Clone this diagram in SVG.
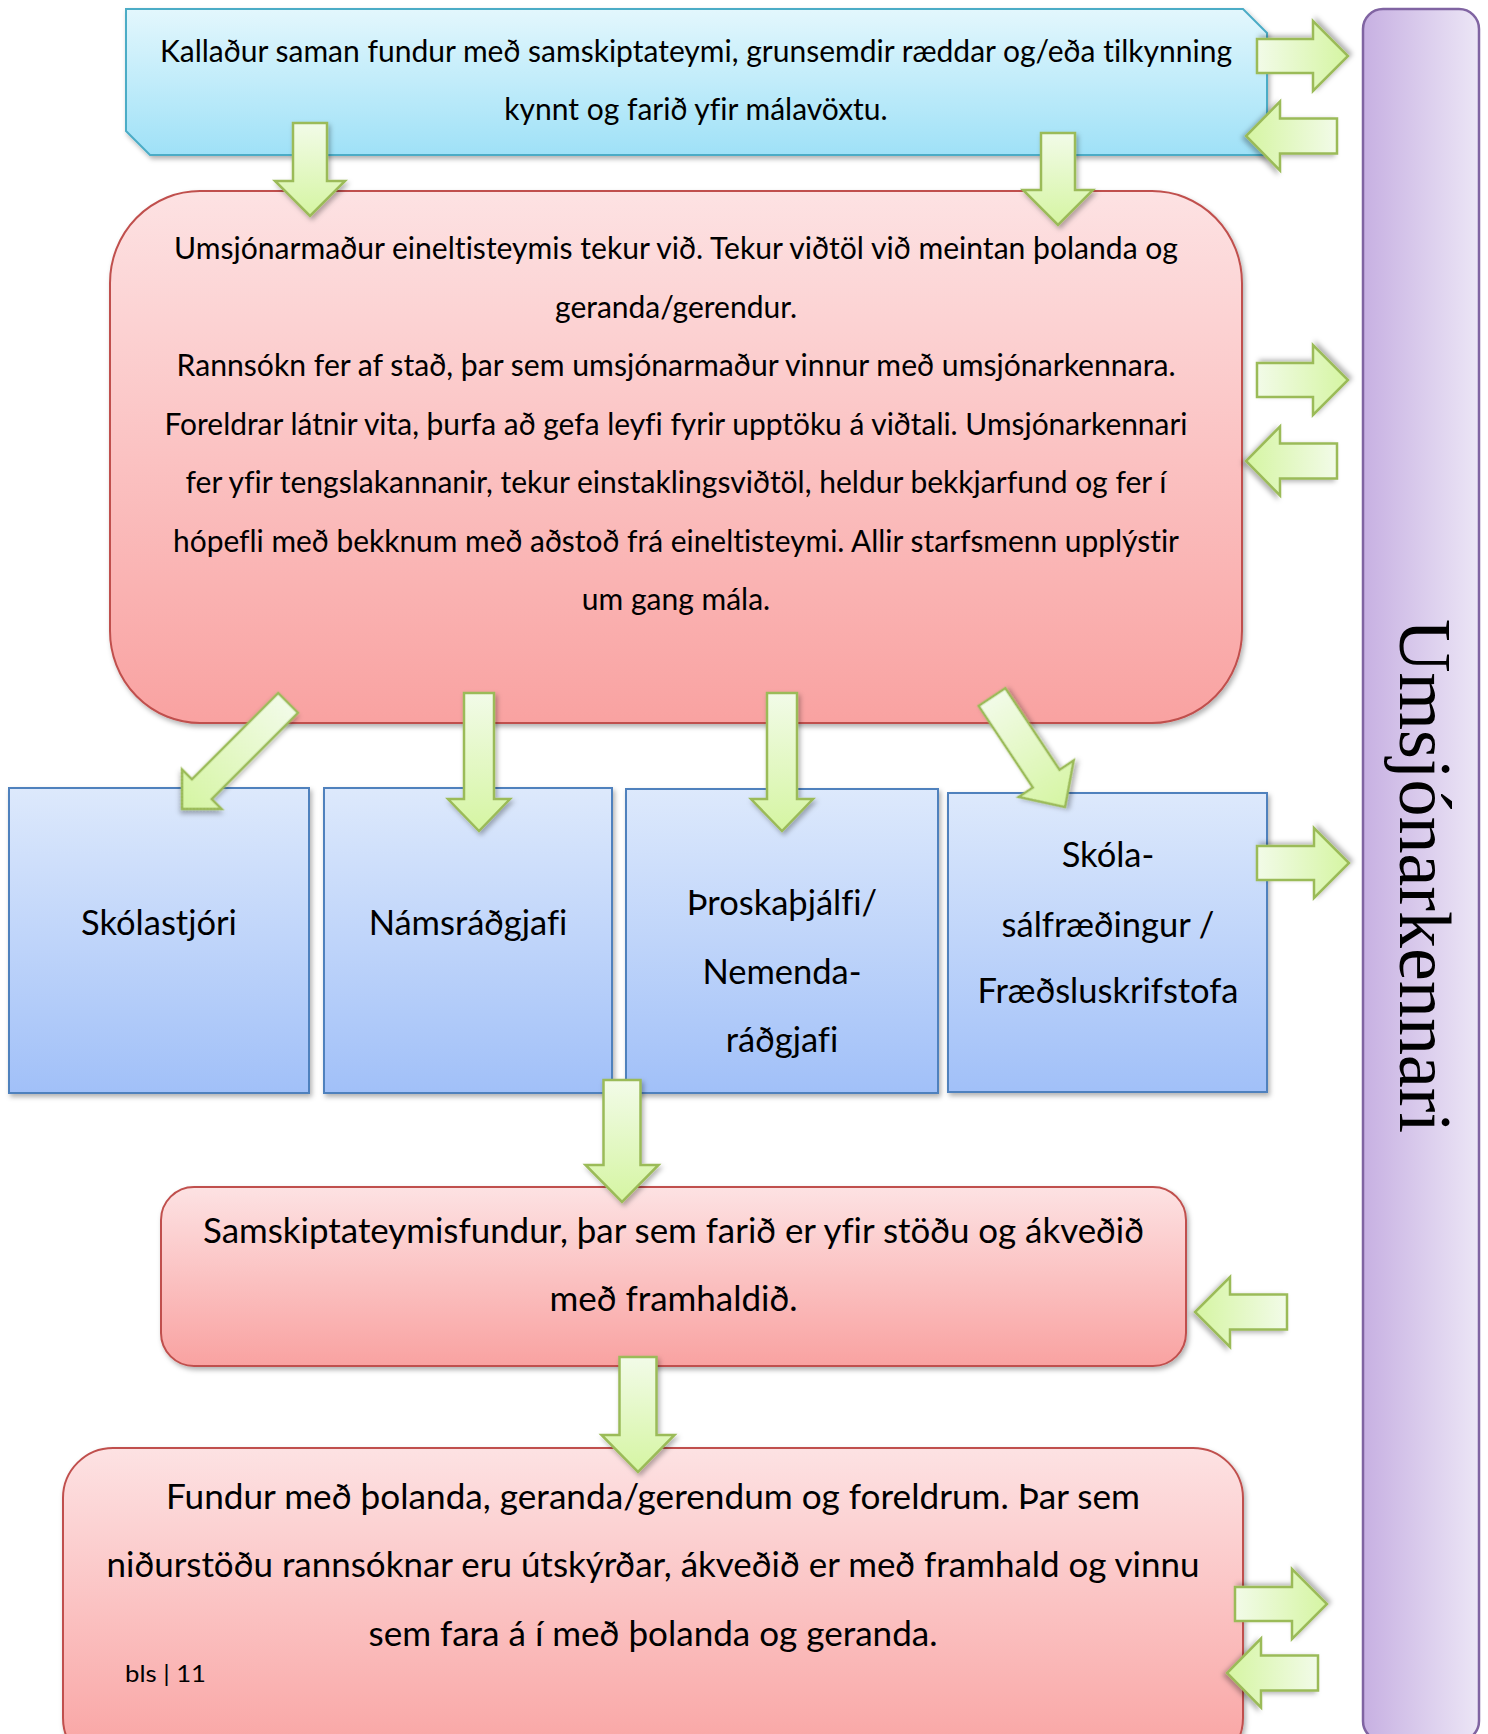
<svg xmlns="http://www.w3.org/2000/svg" width="1488" height="1734" viewBox="0 0 1488 1734">
  <defs>
    <linearGradient id="gBlueTop" x1="0" y1="0" x2="0" y2="1">
      <stop offset="0" stop-color="#e3f7fd"/>
      <stop offset="1" stop-color="#9fe1f7"/>
    </linearGradient>
    <linearGradient id="gRed" x1="0" y1="0" x2="0" y2="1">
      <stop offset="0" stop-color="#fde2e3"/>
      <stop offset="1" stop-color="#f9a2a1"/>
    </linearGradient>
    <linearGradient id="gBlue" x1="0" y1="0" x2="0" y2="1">
      <stop offset="0" stop-color="#dde9fc"/>
      <stop offset="1" stop-color="#a1c0f8"/>
    </linearGradient>
    <linearGradient id="gPurple" x1="0" y1="0" x2="1" y2="0">
      <stop offset="0" stop-color="#c7b0e2"/>
      <stop offset="1" stop-color="#ece6f6"/>
    </linearGradient>
    <linearGradient id="gGreen" x1="0" y1="0" x2="0" y2="1">
      <stop offset="0" stop-color="#f2fbe8"/>
      <stop offset="1" stop-color="#d5f5a2"/>
    </linearGradient>
    <filter id="shadow" x="-10%" y="-10%" width="130%" height="130%">
      <feDropShadow dx="2" dy="3" stdDeviation="2.5" flood-color="#000" flood-opacity="0.3"/>
    </filter>
  </defs>
  <style>
    text { font-variant-ligatures: none; }
    .txt { font-family: "Lato", "Liberation Sans", sans-serif; fill: #000; text-anchor: middle; }
    .f30 { font-size: 30px; }
    .f34 { font-size: 34.5px; }
    .f35 { font-size: 35px; }
    .vert { font-family: "Liberation Serif", serif; font-size: 75px; fill: #000; text-anchor: middle; }
    .bluetop { fill: url(#gBlueTop); stroke: #4bacc6; stroke-width: 2; filter: url(#shadow); }
    .red { fill: url(#gRed); stroke: #c0504d; stroke-width: 2; filter: url(#shadow); }
    .blue { fill: url(#gBlue); stroke: #4f81bd; stroke-width: 2; filter: url(#shadow); }
    .purple { fill: url(#gPurple); stroke: #8064a2; stroke-width: 2.5; }
    .arrow { fill: url(#gGreen); stroke: #9bbb59; stroke-width: 2.5; stroke-linejoin: miter; filter: url(#shadow); }
  </style>
  <rect width="1488" height="1734" fill="#ffffff"/>

  <g id="umsjonarkennari">
    <rect class="purple" x="1363" y="9" width="116" height="1732" rx="20"/>
    <text class="vert" transform="translate(1400,876) rotate(90)" x="0" y="0" textLength="514" lengthAdjust="spacingAndGlyphs">Umsjónarkennari</text>
  </g>

  <g id="kalladur">
    <polygon class="bluetop" points="126,9 1243,9 1267,33 1267,155 150,155 126,131"/>
    <text class="txt f30" x="696" y="62" textLength="1072" lengthAdjust="spacingAndGlyphs">Kallaður saman fundur með samskiptateymi, grunsemdir ræddar og/eða tilkynning</text>
    <text class="txt f30" x="696" y="120">kynnt og farið yfir málavöxtu.</text>
  </g>

  <g id="umsjonarmadur">
    <rect class="red" x="110" y="191" width="1132" height="532" rx="90" ry="92"/>
    <text class="txt f30" x="676" y="259" textLength="1004" lengthAdjust="spacingAndGlyphs">Umsjónarmaður eineltisteymis tekur við. Tekur viðtöl við meintan þolanda og</text>
    <text class="txt f30" x="676" y="317.5">geranda/gerendur.</text>
    <text class="txt f30" x="676" y="376" textLength="999" lengthAdjust="spacingAndGlyphs">Rannsókn fer af stað, þar sem umsjónarmaður vinnur með umsjónarkennara.</text>
    <text class="txt f30" x="676" y="434.5" textLength="1023" lengthAdjust="spacingAndGlyphs">Foreldrar látnir vita, þurfa að gefa leyfi fyrir upptöku á viðtali. Umsjónarkennari</text>
    <text class="txt f30" x="676" y="493" textLength="981" lengthAdjust="spacingAndGlyphs">fer yfir tengslakannanir, tekur einstaklingsviðtöl, heldur bekkjarfund og fer í</text>
    <text class="txt f30" x="676" y="551.5" textLength="1006" lengthAdjust="spacingAndGlyphs">hópefli með bekknum með aðstoð frá eineltisteymi. Allir starfsmenn upplýstir</text>
    <text class="txt f30" x="676" y="610">um gang mála.</text>
  </g>

  <g id="skolastjori">
    <rect class="blue" x="9" y="788" width="300" height="305"/>
    <text class="txt f34" x="159" y="935">Skólastjóri</text>
  </g>
  <g id="namsradgjafi">
    <rect class="blue" x="324" y="788" width="288" height="305"/>
    <text class="txt f34" x="468" y="935">Námsráðgjafi</text>
  </g>
  <g id="throskathjalfi">
    <rect class="blue" x="626" y="789" width="312" height="304"/>
    <text class="txt f34" x="782" y="915">Þroskaþjálfi/</text>
    <text class="txt f34" x="782" y="984">Nemenda-</text>
    <text class="txt f34" x="782" y="1052">ráðgjafi</text>
  </g>
  <g id="skolasalfraedingur">
    <rect class="blue" x="948" y="793" width="319" height="299"/>
    <text class="txt f34" x="1108" y="867">Skóla-</text>
    <text class="txt f34" x="1108" y="937">sálfræðingur /</text>
    <text class="txt f34" x="1108" y="1003">Fræðsluskrifstofa</text>
  </g>

  <g id="samskiptateymisfundur">
    <rect class="red" x="161" y="1187" width="1025" height="179" rx="33"/>
    <text class="txt f35" x="673.5" y="1243" textLength="941" lengthAdjust="spacingAndGlyphs">Samskiptateymisfundur, þar sem farið er yfir stöðu og ákveðið</text>
    <text class="txt f35" x="673.5" y="1311">með framhaldið.</text>
  </g>

  <g id="fundur">
    <rect class="red" x="63" y="1448" width="1180" height="320" rx="50"/>
    <text class="txt f35" x="653" y="1509" textLength="974" lengthAdjust="spacingAndGlyphs">Fundur með þolanda, geranda/gerendum og foreldrum. Þar sem</text>
    <text class="txt f35" x="653" y="1577" textLength="1093" lengthAdjust="spacingAndGlyphs">niðurstöðu rannsóknar eru útskýrðar, ákveðið er með framhald og vinnu</text>
    <text class="txt f35" x="653" y="1646" textLength="569" lengthAdjust="spacingAndGlyphs">sem fara á í með þolanda og geranda.</text>
  </g>

  <g id="page-number">
    <text x="125" y="1682" textLength="81" lengthAdjust="spacingAndGlyphs" style="font-family: 'Lato', 'Liberation Sans', sans-serif; font-size: 24px; fill: #000;">bls | 11</text>
  </g>

  <g id="connectors">
    <path class="arrow" transform="translate(310,216)" d="M-17,-93 L17,-93 L17,-35 L35,-35 L0,0 L-35,-35 L-17,-35 Z"/>
    <path class="arrow" transform="translate(1058,225)" d="M-17,-92 L17,-92 L17,-35 L35,-35 L0,0 L-35,-35 L-17,-35 Z"/>
    <path class="arrow" transform="translate(1348,56) rotate(-90)" d="M-17,-91 L17,-91 L17,-35 L35,-35 L0,0 L-35,-35 L-17,-35 Z"/>
    <path class="arrow" transform="translate(1246,136) rotate(90)" d="M-17.5,-91 L17.5,-91 L17.5,-34 L34.5,-34 L0,0 L-34.5,-34 L-17.5,-34 Z"/>
    <path class="arrow" transform="translate(1348,380) rotate(-90)" d="M-17,-91 L17,-91 L17,-35 L35,-35 L0,0 L-35,-35 L-17,-35 Z"/>
    <path class="arrow" transform="translate(1246,461) rotate(90)" d="M-17.5,-91 L17.5,-91 L17.5,-34 L34.5,-34 L0,0 L-34.5,-34 L-17.5,-34 Z"/>
    <path class="arrow" transform="translate(182,809) rotate(45)" d="M-14,-150 L14,-150 L14,-28 L28,-28 L0,0 L-28,-28 L-14,-28 Z"/>
    <path class="arrow" transform="translate(479,831)" d="M-15,-138 L15,-138 L15,-32 L31,-32 L0,0 L-31,-32 L-15,-32 Z"/>
    <path class="arrow" transform="translate(782,831)" d="M-15,-138 L15,-138 L15,-32 L31,-32 L0,0 L-31,-32 L-15,-32 Z"/>
    <path class="arrow" transform="translate(1065,807) rotate(-33.6)" d="M-16,-132 L16,-132 L16,-34 L33,-34 L0,0 L-33,-34 L-16,-34 Z"/>
    <path class="arrow" transform="translate(1349,863) rotate(-90)" d="M-17,-92 L17,-92 L17,-35 L35,-35 L0,0 L-35,-35 L-17,-35 Z"/>
    <path class="arrow" transform="translate(622,1202)" d="M-18.5,-122 L18.5,-122 L18.5,-37 L36.5,-37 L0,0 L-36.5,-37 L-18.5,-37 Z"/>
    <path class="arrow" transform="translate(1195,1312) rotate(90)" d="M-17.5,-92 L17.5,-92 L17.5,-35 L35,-35 L0,0 L-35,-35 L-17.5,-35 Z"/>
    <path class="arrow" transform="translate(638,1472)" d="M-18.5,-115 L18.5,-115 L18.5,-37 L36.5,-37 L0,0 L-36.5,-37 L-18.5,-37 Z"/>
    <path class="arrow" transform="translate(1327,1604) rotate(-90)" d="M-17,-92 L17,-92 L17,-35 L35,-35 L0,0 L-35,-35 L-17,-35 Z"/>
    <path class="arrow" transform="translate(1227,1673) rotate(90)" d="M-17.5,-91 L17.5,-91 L17.5,-34 L34.5,-34 L0,0 L-34.5,-34 L-17.5,-34 Z"/>
  </g>
</svg>
